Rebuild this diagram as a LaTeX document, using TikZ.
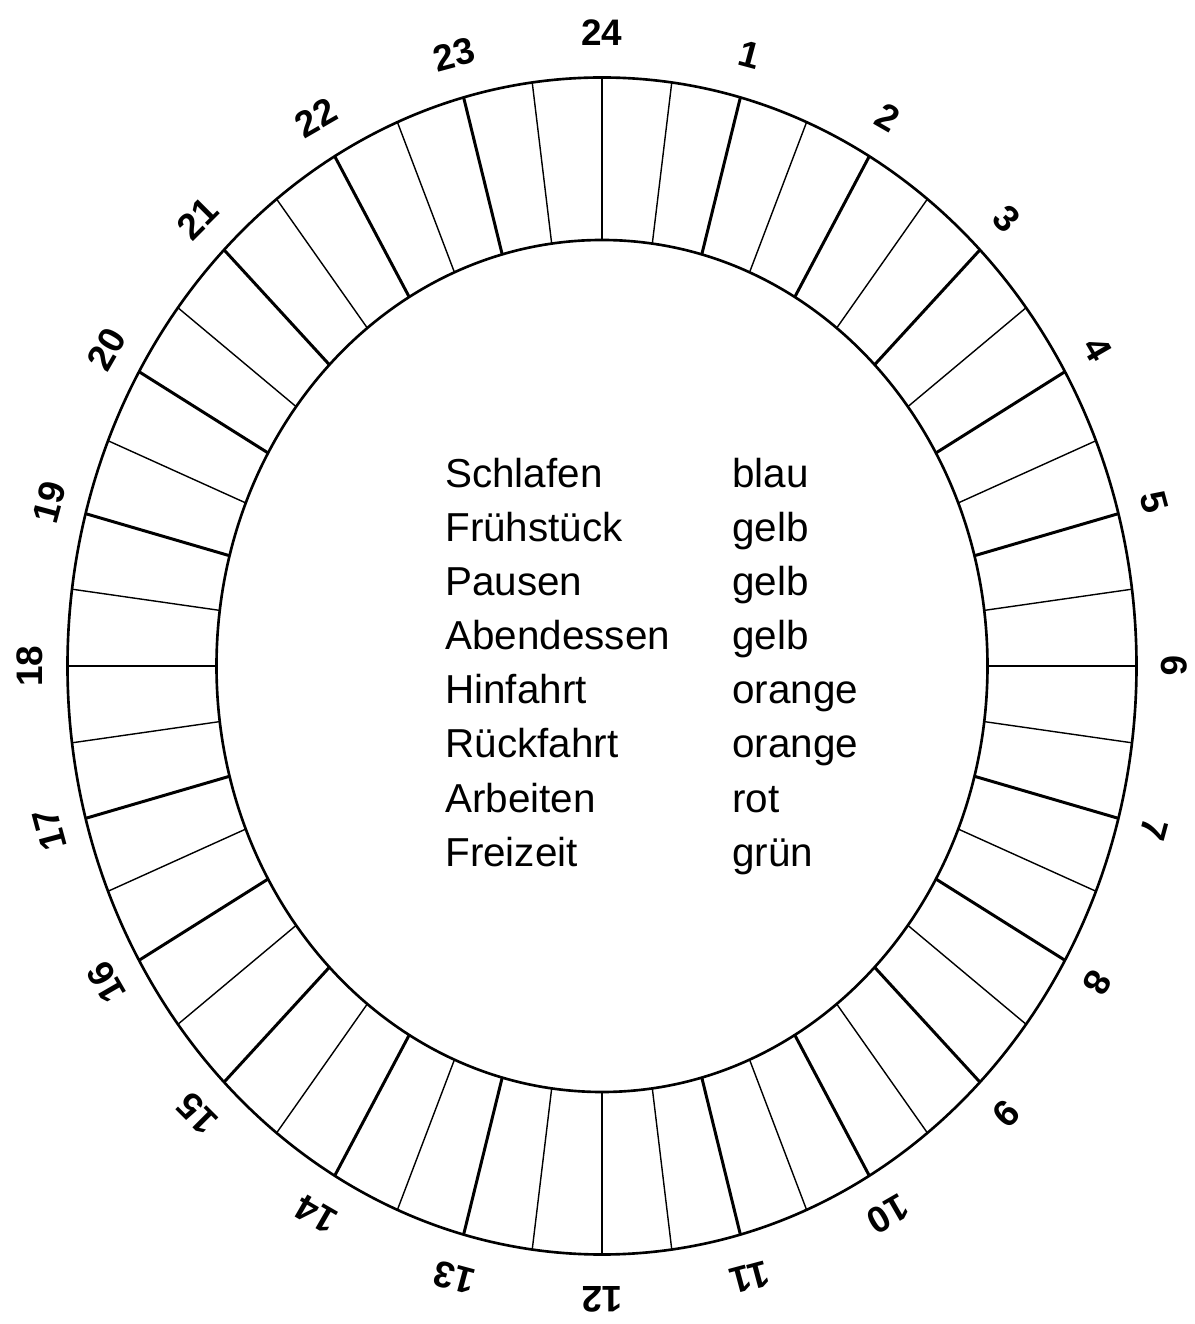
\documentclass[tikz,border=0pt]{standalone}
\usepackage{fontspec}
\setmainfont{Liberation Sans}

\tikzset{
  ring/.style={line width=1.5pt},
  hourline/.style={line width=1.7pt},
  midline/.style={line width=1.1pt},
  halfline/.style={line width=0.8pt},
  hourlabel/.style={font=\fontsize{21}{21}\selectfont\bfseries, inner sep=0pt},
  legend/.style={font=\fontsize{23}{23}\selectfont, anchor=base west, inner sep=0pt}
}

\begin{document}
\begin{tikzpicture}
        \useasboundingbox (-12.04,-13.16) rectangle (11.84,13.32);
        % outer and inner ring
        \draw [ring] (0,0) ellipse [x radius=10.69, y radius=11.77];
        \draw [ring] (0,0) ellipse [x radius=7.71, y radius=8.52];
        % half hours
        \foreach \h in {0,...,23}
            \draw [halfline] ({7.71*cos(82.5-15*\h)},{8.52*sin(82.5-15*\h)}) -- ({10.69*cos(82.5-15*\h)},{11.77*sin(82.5-15*\h)});
        % full hours
        \foreach \h in {1,...,11,13,14,...,23}
            \draw [hourline] ({7.71*cos(90-15*\h)},{8.52*sin(90-15*\h)}) -- ({10.69*cos(90-15*\h)},{11.77*sin(90-15*\h)});
        \draw [midline] (0,8.52) -- (0,11.77);
        \draw [midline] (0,-8.52) -- (0,-11.77);
        % hour labels
        \foreach \h in {1,...,24}
            \node [hourlabel, rotate={-15*\h}] (h\h) at ({11.44*cos(90-15*\h)},{12.66*sin(90-15*\h)}) {\h};
        % legend
        \foreach \act/\col [count=\i] in {Schlafen/blau, Frühstück/gelb, Pausen/gelb, Abendessen/gelb, Hinfahrt/orange, Rückfahrt/orange, Arbeiten/rot, Freizeit/grün} {
            \node [legend] (act\i) at (-3.14,{3.56-1.08*(\i-1)}) {\act};
            \node [legend] (col\i) at (2.6,{3.56-1.08*(\i-1)}) {\col};
        }
\end{tikzpicture}
\end{document}
